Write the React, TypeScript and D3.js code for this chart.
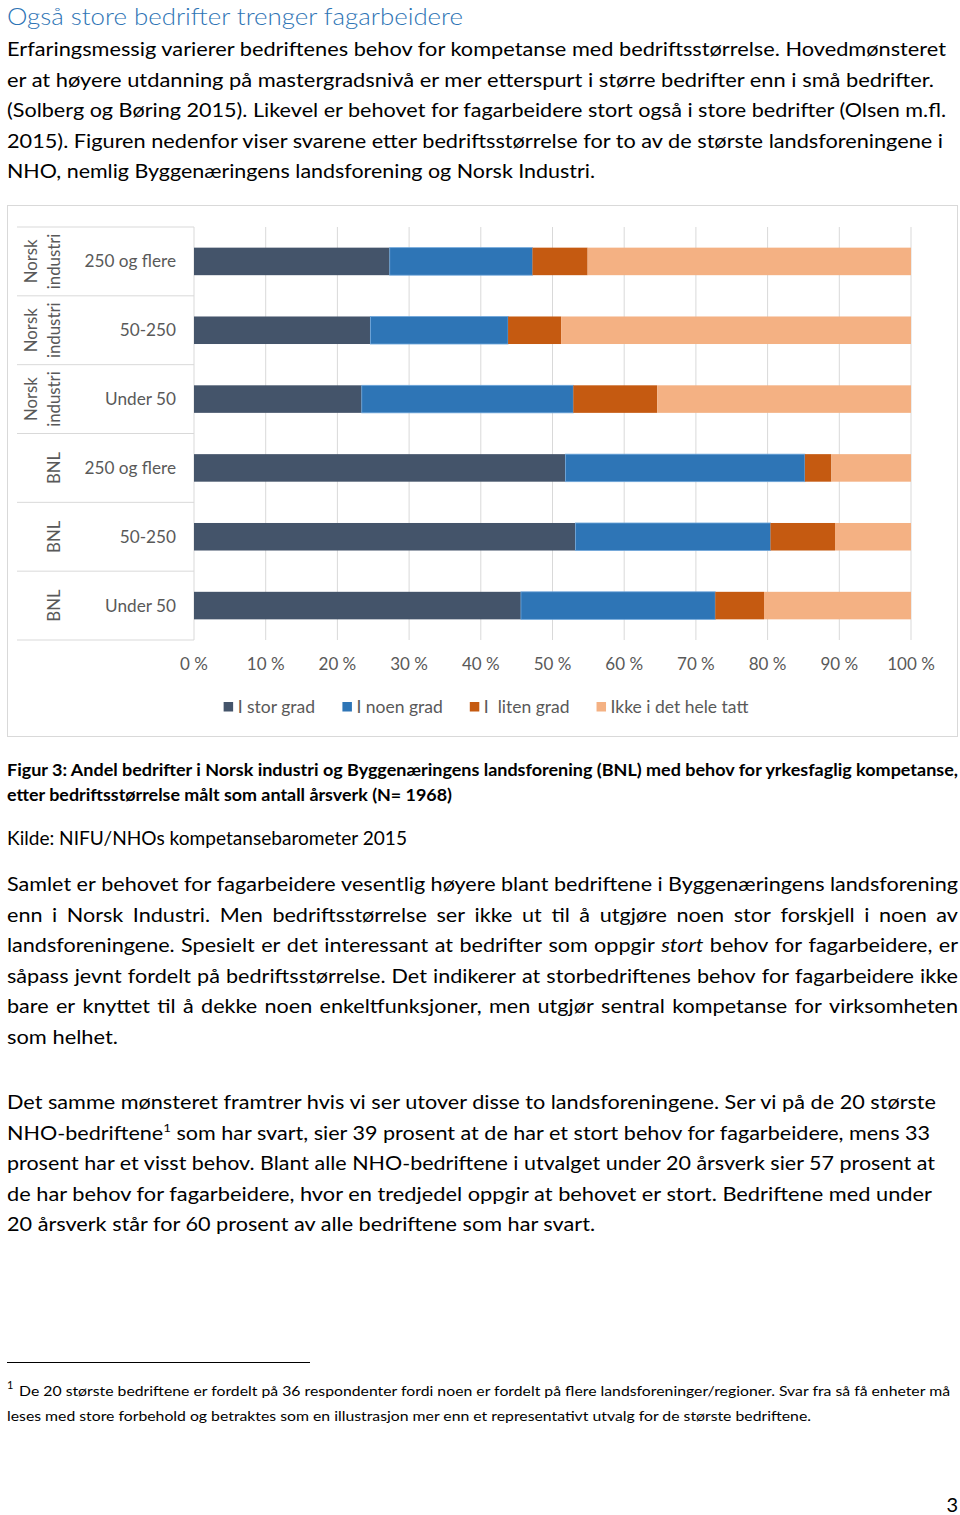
import React from "react";
import * as d3 from "d3";

// ---------- chart data ----------
const rowLabels = ["250 og flere", "50-250", "Under 50", "250 og flere", "50-250", "Under 50"];
const groupLabels = [["Norsk", "industri"], ["Norsk", "industri"], ["Norsk", "industri"], ["BNL"], ["BNL"], ["BNL"]];
const seriesNames = ["I stor grad", "I noen grad", "I  liten grad", "Ikke i det hele tatt"];
const storGrad = [27.3, 24.6, 23.4, 51.8, 53.2, 45.6];
const noenGrad = [19.9, 19.2, 29.5, 33.4, 27.2, 27.1];
const litenGrad = [7.7, 7.4, 11.7, 3.7, 9.0, 6.8];
const ikkeGrad = [45.1, 48.8, 35.4, 11.1, 10.6, 20.5];
const tickValues = [0, 10, 20, 30, 40, 50, 60, 70, 80, 90, 100];
const seriesColors = ["#44546A", "#2E75B6", "#C55A11", "#F4B183"];

// ---------- page text ----------
const titleText = "Også store bedrifter trenger fagarbeidere";
const introLines = [
  "Erfaringsmessig varierer bedriftenes behov for kompetanse med bedriftsstørrelse. Hovedmønsteret",
  "er at høyere utdanning på mastergradsnivå er mer etterspurt i større bedrifter enn i små bedrifter.",
  "(Solberg og Børing 2015). Likevel er behovet for fagarbeidere stort også i store bedrifter (Olsen m.fl.",
  "2015). Figuren nedenfor viser svarene etter bedriftsstørrelse for to av de største landsforeningene i",
  "NHO, nemlig Byggenæringens landsforening og Norsk Industri.",
];
const captionLines = [
  "Figur 3: Andel bedrifter i Norsk industri og Byggenæringens landsforening (BNL) med behov for yrkesfaglig kompetanse,",
  "etter bedriftsstørrelse målt som antall årsverk (N= 1968)",
];
const sourceText = "Kilde: NIFU/NHOs kompetansebarometer 2015";
const para2Lines = [
  "Samlet er behovet for fagarbeidere vesentlig høyere blant bedriftene i Byggenæringens landsforening",
  "enn i Norsk Industri. Men bedriftsstørrelse ser ikke ut til å utgjøre noen stor forskjell i noen av",
  "landsforeningene. Spesielt er det interessant at bedrifter som oppgir *stort* behov for fagarbeidere, er",
  "såpass jevnt fordelt på bedriftsstørrelse. Det indikerer at storbedriftenes behov for fagarbeidere ikke",
  "bare er knyttet til å dekke noen enkeltfunksjoner, men utgjør sentral kompetanse for virksomheten",
  "som helhet.",
];
const para3Lines = [
  "Det samme mønsteret framtrer hvis vi ser utover disse to landsforeningene. Ser vi på de 20 største",
  "NHO-bedriftene^1 som har svart, sier 39 prosent at de har et stort behov for fagarbeidere, mens 33",
  "prosent har et visst behov. Blant alle NHO-bedriftene i utvalget under 20 årsverk sier 57 prosent at",
  "de har behov for fagarbeidere, hvor en tredjedel oppgir at behovet er stort. Bedriftene med under",
  "20 årsverk står for 60 prosent av alle bedriftene som har svart.",
];
const footnoteLines = [
  "De 20 største bedriftene er fordelt på 36 respondenter fordi noen er fordelt på flere landsforeninger/regioner. Svar fra så få enheter må",
  "leses med store forbehold og betraktes som en illustrasjon mer enn et representativt utvalg for de største bedriftene.",
];
const pageNumber = "3";

// ---------- layout ----------
const FONT = "Lato, 'Open Sans', sans-serif";
const BODY = 19.5;
const introW = [939, 927, 939, 936, 588];
const para3W = [929, 923, 928, 925, 588];

const canvas = typeof document !== "undefined" ? document.createElement("canvas") : null;
const ctx = canvas ? canvas.getContext("2d") : null;
function measure(t: string, font: string) {
  if (!ctx) return t.length * 9;
  ctx.font = font;
  return ctx.measureText(t).width;
}
const S = 588 / measure(para3Lines[4], `${BODY}px Lato`);

function FitLine({ text, x, y, w, size, weight, fill }: any) {
  const parts = text.split("^1");
  return (
    <text x={x} y={y} fontSize={size} fontWeight={weight || 400} fill={fill || "#000"} fontFamily={FONT}
      textLength={w} lengthAdjust="spacingAndGlyphs">
      {parts.length === 1 ? text : (
        <>
          <tspan>{parts[0]}</tspan>
          <tspan dy={-8} fontSize={12}>1</tspan>
          <tspan dy={8}>{parts[1]}</tspan>
        </>
      )}
    </text>
  );
}

function JustLine({ text, x, y, w }: any) {
  const toks = text.split(" ").map((t: string) => {
    const it = t.startsWith("*");
    const word = t.replace(/\*/g, "");
    const ww = measure(word, `${it ? "italic " : ""}${BODY}px Lato`) * S;
    return { word, it, ww };
  });
  const total = d3.sum(toks, (d: any) => d.ww);
  const gap = (w - total) / (toks.length - 1);
  let cx = x;
  return (
    <g>
      {toks.map((t: any, i: number) => {
        const el = (
          <text key={i} x={cx} y={y} fontSize={BODY} fontStyle={t.it ? "italic" : "normal"} fontFamily={FONT}
            fill="#000" textLength={t.ww} lengthAdjust="spacingAndGlyphs">{t.word}</text>
        );
        cx += t.ww + gap;
        return el;
      })}
    </g>
  );
}

export default function App() {
  const table = rowLabels.map((_, i) => ({
    i,
    [seriesNames[0]]: storGrad[i],
    [seriesNames[1]]: noenGrad[i],
    [seriesNames[2]]: litenGrad[i],
    [seriesNames[3]]: ikkeGrad[i],
  }));
  const stack = d3.stack<any>().keys(seriesNames)(table);
  const x = d3.scaleLinear().domain([0, 100]).range([194, 911]);
  const y = d3.scaleBand<number>().domain(d3.range(rowLabels.length)).range([227, 640]).paddingInner(0.6).paddingOuter(0.3);
  const step = y.step();
  const top = 227, bottom = 640;

  // legend layout
  const LEG = 17.5;
  const legFont = `${LEG}px Lato`;
  const items = seriesNames.map((n) => ({ n, tw: measure(n, legFont) }));
  const itemW = items.map((d) => 14 + d.tw);
  const legGap = 27;
  const legTotal = d3.sum(itemW) + legGap * (items.length - 1);
  let lx = 486 - legTotal / 2;
  const legPos = items.map((d, i) => { const p = lx; lx += itemW[i] + legGap; return p; });

  return (
    <svg width={960} height={1515} style={{ position: "absolute", left: 0, top: 0, background: "#fff" }} fontFamily={FONT}>
      <rect x={0} y={0} width={960} height={1515} fill="#fff" />
      {/* Title */}
      <text x={7} y={25} fontSize={23.5} fontWeight={300} fill="#2E74B5" textLength={456} lengthAdjust="spacingAndGlyphs">{titleText}</text>
      {introLines.map((t, i) => (
        <FitLine key={i} text={t} x={7} y={56 + i * 30.6} w={introW[i]} size={BODY} />
      ))}

      {/* Chart frame */}
      <rect x={7.5} y={205.5} width={950} height={531} fill="none" stroke="#D9D9D9" />
      {/* gridlines */}
      {tickValues.map((v) => (
        <line key={v} x1={x(v)} x2={x(v)} y1={top} y2={bottom} stroke="#D9D9D9" strokeWidth={1} />
      ))}
      {/* category separators */}
      {d3.range(rowLabels.length + 1).map((i) => (
        <line key={i} x1={17} x2={194} y1={top + i * step} y2={top + i * step} stroke="#D9D9D9" strokeWidth={1} />
      ))}
      {/* bars */}
      {stack.map((s, si) => (
        <g key={si}>
          {s.map((d: any, i: number) => (
            <rect key={i} x={x(d[0])} y={y(i)} width={x(d[1]) - x(d[0])} height={y.bandwidth()}
              fill={seriesColors[si]} stroke={si === 1 ? "#6FA6DA" : "none"} strokeWidth={si === 1 ? 0.8 : 0} />
          ))}
        </g>
      ))}
      {/* category labels */}
      {rowLabels.map((l, i) => {
        const cy = (y(i) as number) + y.bandwidth() / 2;
        const g = groupLabels[i];
        return (
          <g key={i}>
            <text x={176} y={cy} dy="0.35em" textAnchor="end" fontSize={17.2} fill="#595959">{l}</text>
            {g.map((gl, j) => {
              const bx = 60 - (g.length - 1 - j) * 23;
              return (
                <text key={j} transform={`translate(${bx},${cy}) rotate(-90)`} textAnchor="middle" fontSize={16.8} fill="#595959">{gl}</text>
              );
            })}
          </g>
        );
      })}
      {/* x tick labels */}
      {tickValues.map((v) => (
        <text key={v} x={x(v)} y={670} textAnchor="middle" fontSize={17} fill="#595959">{`${v} %`}</text>
      ))}
      {/* legend */}
      {items.map((d, i) => (
        <g key={i}>
          <rect x={legPos[i]} y={702} width={9.5} height={9.5} fill={seriesColors[i]} />
          <text x={legPos[i] + 14} y={713} fontSize={LEG} fill="#595959" style={{ whiteSpace: "pre" }}>{d.n}</text>
        </g>
      ))}

      {/* caption */}
      {captionLines.map((t, i) => (
        <FitLine key={i} text={t} x={7} y={776 + i * 25} w={i === 0 ? 951 : 445} size={17.5} weight={700} />
      ))}
      <FitLine text={sourceText} x={7} y={845} w={400} size={BODY} />

      {/* justified paragraph */}
      {para2Lines.map((t, i) =>
        i < para2Lines.length - 1 ? (
          <JustLine key={i} text={t} x={7} y={891 + i * 30.6} w={951} />
        ) : (
          <FitLine key={i} text={t} x={7} y={891 + i * 30.6} w={111} size={BODY} />
        )
      )}

      {para3Lines.map((t, i) => (
        <FitLine key={i} text={t} x={7} y={1109 + i * 30.6} w={para3W[i]} size={BODY} />
      ))}

      {/* footnote */}
      <line x1={7} x2={310} y1={1362.5} y2={1362.5} stroke="#000" strokeWidth={1} />
      <text x={7} y={1389} fontSize={11} fill="#000">1</text>
      <FitLine text={footnoteLines[0]} x={19} y={1396} w={931} size={14.2} />
      <FitLine text={footnoteLines[1]} x={7} y={1421} w={804} size={14.2} />

      <text x={958} y={1512} textAnchor="end" fontSize={20} fill="#000">{pageNumber}</text>
    </svg>
  );
}
